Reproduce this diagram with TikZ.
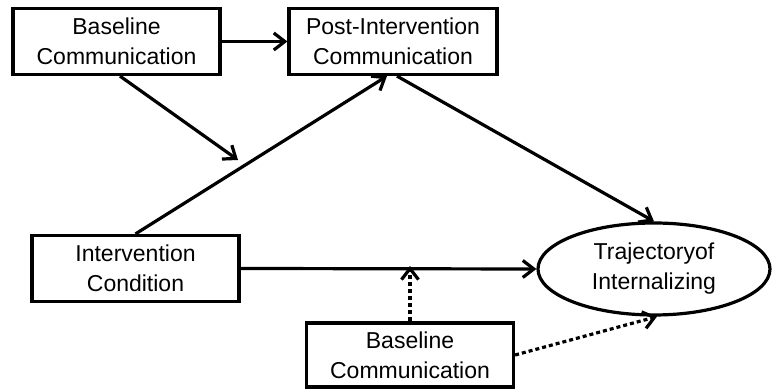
\documentclass[tikz,border=0pt]{standalone}
\usepackage{fontspec}
\setmainfont{Liberation Sans}
\usetikzlibrary{arrows.meta,shapes.geometric}
\begin{document}
\begin{tikzpicture}[x=1pt,y=1pt,line cap=butt,line join=miter]
  \tikzset{
    varbox/.style={draw=black,line width=3.2pt,minimum width=207pt,minimum height=66pt,
      inner sep=0pt,align=center,font=\fontsize{23}{30}\selectfont},
    outcome/.style={varbox,ellipse,minimum width=232pt,minimum height=92pt},
    effect/.style={draw=black,line width=3.2pt,-{Straight Barb[length=11pt,width=17pt,line width=3.2pt]}},
    moderation/.style={effect,dash pattern=on 4pt off 3pt}
  }
  \useasboundingbox (0,0) rectangle (772,390);
  % Variables
  \node[varbox] (basecomm) at (116.5,348.5) {Baseline\\Communication};
  \node[varbox,minimum width=208pt] (postcomm) at (393,348.5) {Post-Intervention\\Communication};
  \node[varbox] (condition) at (135.5,121.5) {Intervention\\Condition};
  \node[varbox,minimum height=64pt] (basemod) at (410,35) {Baseline\\Communication};
  \node[outcome] (trajectory) at (654,121) {Trajectoryof\\Internalizing};
  % Points where arrows meet a path
  \coordinate (onmediation) at (238,230);
  \coordinate (ondirect) at (410,124);
  % Paths
  \draw[effect] (basecomm.east) -- (postcomm.west);
  \draw[effect] ([xshift=3.5pt]basecomm.south) -- (onmediation);
  \draw[effect] (condition.north) -- ([xshift=-6pt]postcomm.south);
  \draw[effect] ([xshift=4pt]postcomm.south) -- (trajectory.north);
  \draw[effect] (condition.east) -- (trajectory.west);
  % Moderation by baseline communication
  \draw[moderation] (basemod.north) -- (ondirect);
  \draw[moderation] (basemod.east) -- ([xshift=3pt]trajectory.south);
\end{tikzpicture}
\end{document}
